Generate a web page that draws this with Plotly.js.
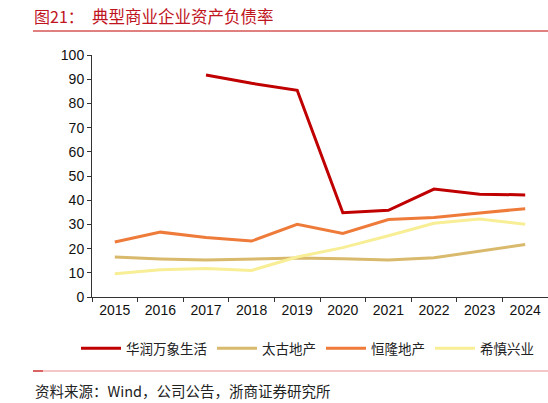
<!DOCTYPE html>
<html>
<head>
<meta charset="utf-8">
<script src="https://cdn.plot.ly/plotly-3.0.1.min.js"></script>
<style>
  html, body { margin: 0; padding: 0; background: #fff; }
  #chart { width: 548px; height: 403px; }
</style>
</head>
<body>
<div id="chart"></div>
<script>
// years on the x axis
var years = ['2015', '2016', '2017', '2018', '2019', '2020', '2021', '2022', '2023', '2024'];

// asset-liability ratio, %
var crMixc = [null, null, 91.7, 88.3, 85.4, 34.8, 35.8, 44.6, 42.5, 42.2];      // 华润万象生活
var swireProp = [16.5, 15.7, 15.3, 15.7, 16.1, 15.8, 15.3, 16.2, 18.8, 21.7];   // 太古地产
var hangLung = [22.7, 26.8, 24.6, 23.1, 30.0, 26.3, 32.0, 32.9, 34.7, 36.5];    // 恒隆地产
var hysan = [9.6, 11.3, 11.8, 11.0, 16.5, 20.4, 25.3, 30.5, 32.2, 30.1];        // 希慎兴业

var names = ['华润万象生活', '太古地产', '恒隆地产', '希慎兴业'];
var colors = ['#C00000', '#D9BA6C', '#EE7B3A', '#F8EE96'];
var series = [crMixc, swireProp, hangLung, hysan];

var numFont = 'Liberation Sans, Arial, sans-serif';
var cjkFont = 'Noto Sans CJK SC, sans-serif';

var data = [];
for (var i = 0; i < series.length; i++) {
    data.push({
        type: 'scatter',
        mode: 'lines',
        x: years,
        y: series[i],
        name: names[i],
        line: { color: colors[i], width: 3 },
        connectgaps: false,
        hoverinfo: 'skip'
    });
}

// pixel -> paper helpers (plot area 92..548 x 55..297)
function px(p) { return (p - 92) / 456; }
function py(p) { return (297 - p) / 242; }

var layout = {
    width: 548,
    height: 403,
    margin: { l: 92, r: 0, t: 55, b: 106, autoexpand: false },
    paper_bgcolor: '#fff',
    plot_bgcolor: '#fff',
    showlegend: true,
    legend: {
        orientation: 'h',
        x: px(76),
        y: py(333),
        xanchor: 'left',
        yanchor: 'top',
        font: { family: cjkFont, size: 13.5, color: '#222' },
        traceorder: 'normal',
        itemwidth: 40
    },
    xaxis: {
        type: 'category',
        tickson: 'boundaries',
        ticks: 'outside',
        ticklen: 4,
        tickcolor: '#333',
        showline: true,
        linecolor: '#333',
        linewidth: 1,
        showgrid: false,
        zeroline: false,
        tickfont: { family: numFont, size: 14, color: '#111' },
        range: [-0.5, 9.5]
    },
    yaxis: {
        range: [0, 100],
        dtick: 10,
        ticks: 'outside',
        ticklen: 4,
        tickcolor: '#333',
        showline: true,
        linecolor: '#333',
        linewidth: 1,
        showgrid: false,
        zeroline: false,
        tickfont: { family: numFont, size: 14, color: '#111' }
    },
    shapes: [
        { type: 'line', xref: 'paper', yref: 'paper', x0: px(33), x1: px(548), y0: py(31), y1: py(31),
          line: { color: '#C00000', width: 1 } },
        { type: 'line', xref: 'paper', yref: 'paper', x0: px(33), x1: px(548), y0: py(371), y1: py(371),
          line: { color: '#E89090', width: 1 } },
        { type: 'line', xref: 'paper', yref: 'paper', x0: px(33), x1: px(43), y0: py(371), y1: py(371),
          line: { color: '#C00000', width: 1 } }
    ],
    annotations: [
        { xref: 'paper', yref: 'paper', x: px(32), y: py(16), xanchor: 'left', yanchor: 'middle',
          showarrow: false, text: '图21：',
          font: { family: cjkFont, size: 16, color: '#C0141E' } },
        { xref: 'paper', yref: 'paper', x: px(90), y: py(16), xanchor: 'left', yanchor: 'middle',
          showarrow: false, text: '典型商业企业资产负债率',
          font: { family: cjkFont, size: 16.5, color: '#C0141E' } },
        { xref: 'paper', yref: 'paper', x: px(33), y: py(390), xanchor: 'left', yanchor: 'middle',
          showarrow: false, text: '资料来源：Wind，公司公告，浙商证券研究所',
          font: { family: cjkFont, size: 14.5, color: '#222' } }
    ]
};

Plotly.newPlot('chart', data, layout, { staticPlot: true });
</script>
</body>
</html>
